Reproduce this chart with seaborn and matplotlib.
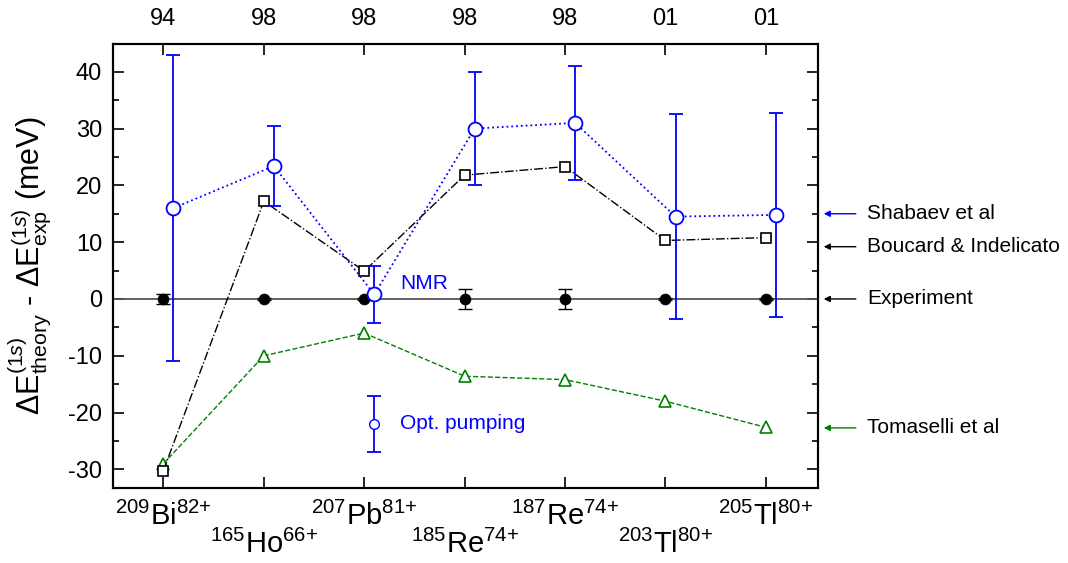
import numpy as np
import matplotlib
matplotlib.use('Agg')
import matplotlib.pyplot as plt
import seaborn as sns

# ── Data ──────────────────────────────────────────────────────
ions  = [r'$^{209}$Bi$^{82{+}}$', r'$^{165}$Ho$^{66{+}}$', r'$^{207}$Pb$^{81{+}}$',
         r'$^{185}$Re$^{74{+}}$', r'$^{187}$Re$^{74{+}}$', r'$^{203}$Tl$^{80{+}}$',
         r'$^{205}$Tl$^{80{+}}$']
years = ['94', '98', '98', '98', '98', '01', '01']

shabaev     = [16.0, 23.4, 0.8, 30.0, 31.0, 14.5, 14.8]
shabaev_err = [27.0, 7.0, 5.0, 10.0, 10.0, 18.0, 18.0]
boucard     = [-30.2, 17.2, 4.9, 21.8, 23.3, 10.3, 10.8]
tomaselli   = [-29.0, -10.0, -6.0, -13.6, -14.2, -18.0, -22.6]
experiment  = [0, 0, 0, 0, 0, 0, 0]
exp_err     = [0.8, 0.2, 0.2, 1.8, 1.8, 0.2, 0.2]

opt_pumping     = -22.0
opt_pumping_err = 5.0

# right-hand annotations: (label, y, colour)
notes = [('Shabaev et al', 15.0, 'blue'),
         ('Boucard & Indelicato', 9.2, 'black'),
         ('Experiment', 0.0, 'black'),
         ('Tomaselli et al', -22.7, 'green')]

x = np.arange(1, len(ions) + 1)

# ── Style ─────────────────────────────────────────────────────
sns.set_style('ticks')
plt.rcParams['font.family'] = ['Liberation Sans', 'DejaVu Sans']
plt.rcParams['mathtext.fontset'] = 'custom'
plt.rcParams['mathtext.rm'] = 'Liberation Sans'
plt.rcParams['mathtext.it'] = 'Liberation Sans:italic'
plt.rcParams['mathtext.bf'] = 'Liberation Sans:bold'
plt.rcParams['axes.unicode_minus'] = False
plt.rcParams['axes.edgecolor'] = 'black'
plt.rcParams['xtick.color'] = 'black'
plt.rcParams['ytick.color'] = 'black'
plt.rcParams['text.color'] = 'black'
plt.rcParams['axes.labelcolor'] = 'black'

fig = plt.figure(figsize=(10.68, 5.63), dpi=100)
ax = fig.add_axes([0.106, 0.133, 0.660, 0.789])

# zero line
ax.axhline(0, color='#555555', lw=1.3, zorder=1)

# Experiment
ax.errorbar(x, experiment, yerr=exp_err, fmt='none', ecolor='black',
            elinewidth=1.0, capsize=5, capthick=1.0, zorder=3)
sns.scatterplot(x=x, y=experiment, marker='o', color='black', s=60,
                edgecolor='black', ax=ax, zorder=4)

# Tomaselli
sns.lineplot(x=x, y=tomaselli, color='#008000', linestyle='--', lw=1.0,
             marker='^', markersize=9, markerfacecolor='white',
             markeredgecolor='#008000', markeredgewidth=1.2, ax=ax, zorder=3)

# Boucard & Indelicato
sns.lineplot(x=x, y=boucard, color='black', linestyle='-.', lw=1.0,
             marker='s', markersize=7, markerfacecolor='white',
             markeredgecolor='black', markeredgewidth=1.2, ax=ax, zorder=3)

# Shabaev
xs = x + 0.1
ax.errorbar(xs, shabaev, yerr=shabaev_err, fmt='none', ecolor='blue',
            elinewidth=1.3, capsize=5, capthick=1.3, zorder=4)
sns.lineplot(x=xs, y=shabaev, color='blue', linestyle=':', lw=1.3,
             marker='o', markersize=10, markerfacecolor='white',
             markeredgecolor='blue', markeredgewidth=1.3, ax=ax, zorder=5)

# optical pumping point
ax.errorbar([x[2] + 0.1], [opt_pumping], yerr=[opt_pumping_err], fmt='o',
            ms=7, mfc='white', mec='blue', color='blue', elinewidth=1.3,
            capsize=5, capthick=1.3, zorder=5)

ax.text(x[2] + 0.36, 2.8, 'NMR', color='blue', fontsize=15, va='center')
ax.text(x[2] + 0.36, -21.9, 'Opt. pumping', color='blue', fontsize=15,
        va='center')

# ── Axes ──────────────────────────────────────────────────────
ax.set_xlim(0.5, 7.52)
ax.set_ylim(-33.3, 44.9)
ax.set_xticks(x)
ax.set_xticklabels(ions, fontsize=21)
ax.set_yticks(np.arange(-30, 41, 10))
ax.set_yticks(np.arange(-30, 45, 5), minor=True)
ax.tick_params(axis='y', which='major', direction='in', length=8, width=1.2,
               labelsize=17, pad=8, right=True)
ax.tick_params(axis='y', which='minor', direction='in', length=4.5,
               width=1.2, right=True)
ax.tick_params(axis='x', which='major', direction='in', length=8, width=1.2,
               pad=10)
ax.tick_params(axis='x', which='minor', bottom=False)
for i, lab in enumerate(ax.get_xticklabels()):
    if i % 2 == 1:
        lab.set_y(-0.063)

ax.set_ylabel(r'$\Delta$E$^{(1s)}_{\mathrm{theory}}$ - $\Delta$E$^{(1s)}_{\mathrm{exp}}$ (meV)',
              fontsize=22, labelpad=10)

for sp in ax.spines.values():
    sp.set_linewidth(1.5)
    sp.set_visible(True)

ax2 = ax.twiny()
ax2.set_xlim(ax.get_xlim())
ax2.set_xticks(x)
ax2.set_xticklabels(years, fontsize=17)
ax2.tick_params(axis='x', direction='in', length=8, width=1.2, pad=10)
for sp in ax2.spines.values():
    sp.set_linewidth(1.5)

# right-side annotations with arrows
trans = ax.get_yaxis_transform()
for label, yv, col in notes:
    ax.annotate(label, xy=(1.008, yv), xycoords=trans,
                xytext=(1.07, yv), textcoords=trans,
                fontsize=15, color='black', va='center', ha='left',
                arrowprops=dict(arrowstyle='-|>', color=col, lw=1.0,
                                mutation_scale=9, shrinkA=6, shrinkB=0),
                annotation_clip=False)

fig.savefig('out.png', dpi=100)
